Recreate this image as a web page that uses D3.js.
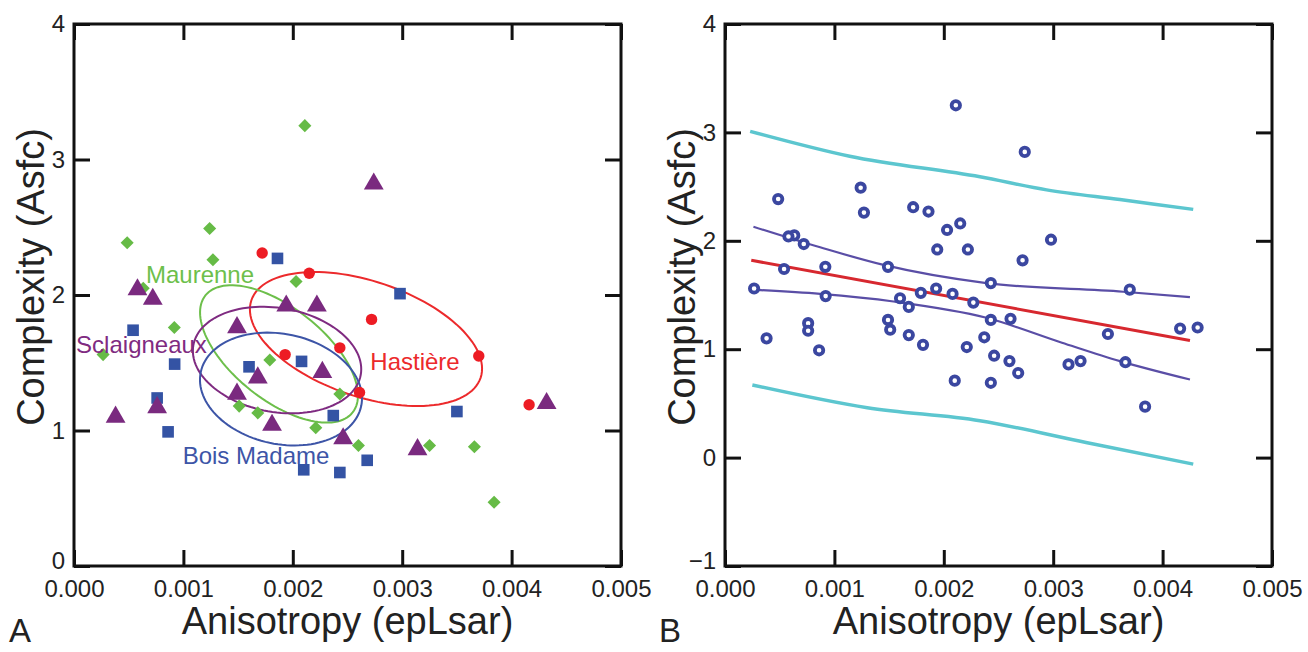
<!DOCTYPE html>
<html>
<head>
<meta charset="utf-8">
<script src="https://cdnjs.cloudflare.com/ajax/libs/d3/7.8.5/d3.min.js"></script>
<style>
  body { margin: 0; background: #fff; }
  text { font-family: "Liberation Sans", Arial, Helvetica, sans-serif; }
</style>
</head>
<body>
<script>
// ticks
var xTicks = [0, 0.001, 0.002, 0.003, 0.004, 0.005];
var yTicksA = [0, 1, 2, 3, 4];
var yTicksB = [-1, 0, 1, 2, 3, 4];

// sites: [epLsar, Asfc]
var maurenne = [[0.00211,3.25],[0.00124,2.49],[0.000486,2.385],[0.00127,2.26],[0.00203,2.10],
  [0.000633,2.05],[0.000917,1.76],[0.000266,1.56],[0.00179,1.52],[0.00243,1.27],[0.00151,1.18],
  [0.00168,1.13],[0.00221,1.02],[0.00260,0.89],[0.00325,0.89],[0.00366,0.88],[0.00384,0.47]];
var hastiere = [[0.00172,2.31],[0.00215,2.16],[0.00272,1.82],[0.00243,1.61],[0.00193,1.56],
  [0.00370,1.55],[0.00261,1.28],[0.00416,1.19]];
var boisMadame = [[0.00186,2.27],[0.00298,2.01],[0.00054,1.74],[0.00092,1.49],[0.00160,1.47],
  [0.00208,1.51],[0.00076,1.24],[0.00086,0.99],[0.00237,1.11],[0.00210,0.71],[0.00243,0.69],
  [0.00268,0.78],[0.00350,1.14]];
var sclaigneaux = [[0.00274,2.82],[0.00058,2.04],[0.00072,1.97],[0.00194,1.92],[0.00222,1.92],
  [0.00149,1.76],[0.00168,1.39],[0.00227,1.43],[0.00149,1.27],[0.00076,1.17],[0.00038,1.10],
  [0.00181,1.04],[0.00246,0.94],[0.00314,0.86],[0.00432,1.20]];

// ellipses: centre + two semi-axis vectors, data units
var ellipses = [
  {name: "Hastière",    color: "#ec2a2c", cx: 0.002669, cy: 1.675, ux: 0.0010475, uy: -0.2863, vx: -0.0001691, vy: -0.4033, lx: 0.003117, ly: 1.513},
  {name: "Maurenne",    color: "#6dbf4b", cx: 0.001874, cy: 1.565, ux: 0.0006728, uy: -0.4317, vx: -0.0002614, vy: -0.2657, lx: 0.001152, ly: 2.155},
  {name: "Sclaigneaux", color: "#7f2b81", cx: 0.001856, cy: 1.520, ux: 0.0007651, uy: -0.1089, vx: -0.0000825, vy: -0.3779, lx: 0.000617, ly: 1.638},
  {name: "Bois Madame", color: "#3d55a7", cx: 0.001892, cy: 1.306, ux: 0.0007331, uy: -0.1258, vx: -0.0001045, vy: -0.3970, lx: 0.001664, ly: 0.819}
];

// panel B lines
var regression = [[0.00024,1.82],[0.00425,1.08]];
var confUpper = [[0.00026,2.13],[0.00087,1.94],[0.00144,1.78],[0.00239,1.61],[0.00364,1.53],[0.00425,1.48]];
var confLower = [[0.00023,1.55],[0.00087,1.51],[0.00154,1.44],[0.00239,1.29],[0.00308,1.06],[0.00361,0.89],[0.00425,0.72]];
var predUpper = [[0.00023,3.01],[0.00114,2.78],[0.00233,2.59],[0.00294,2.47],[0.00361,2.38],[0.00428,2.29]];
var predLower = [[0.00025,0.67],[0.00130,0.46],[0.00233,0.34],[0.00330,0.14],[0.00428,-0.06]];

var W = 1308, H = 652, top_ = 24, bottom = 566;

var svg = d3.select("body").append("svg")
    .attr("width", W)
    .attr("height", H);

svg.append("rect").attr("width", W).attr("height", H).attr("fill", "#fff");

function drawFrame(x, y, yTicks, label, labelX) {
  var g = svg.append("g");
  var left = x.range()[0], right = x.range()[1];

  var styleAxis = function(sel) {
    sel.select(".domain").remove();
    sel.selectAll(".tick line").attr("stroke", "#111").attr("stroke-width", 3);
    sel.selectAll(".tick text").attr("font-size", 24).attr("fill", "#222")
      .attr("font-family", "Liberation Sans, Arial, sans-serif");
  };

  g.append("g").attr("transform", "translate(0," + bottom + ")")
    .call(d3.axisBottom(x).tickValues(xTicks).tickFormat(d3.format(".3f"))
      .tickSizeInner(-16).tickSizeOuter(0).tickPadding(14))
    .call(styleAxis);
  g.append("g").attr("transform", "translate(0," + top_ + ")")
    .call(d3.axisTop(x).tickValues(xTicks).tickFormat("")
      .tickSizeInner(-16).tickSizeOuter(0))
    .call(styleAxis);
  g.append("g").attr("transform", "translate(" + left + ",0)")
    .call(d3.axisLeft(y).tickValues(yTicks).tickFormat(d3.format("d"))
      .tickSizeInner(-16).tickSizeOuter(0).tickPadding(9))
    .call(styleAxis)
    .call(function(s) {
      // lowest label sits a little above its tick, as in the figure
      s.selectAll(".tick text").filter(function(d) { return d === yTicks[0]; }).attr("dy", "0.12em");
    });
  g.append("g").attr("transform", "translate(" + right + ",0)")
    .call(d3.axisRight(y).tickValues(yTicks).tickFormat("")
      .tickSizeInner(-16).tickSizeOuter(0))
    .call(styleAxis);

  g.append("rect")
    .attr("x", left).attr("y", top_)
    .attr("width", right - left).attr("height", bottom - top_)
    .attr("fill", "none").attr("stroke", "#111").attr("stroke-width", 3);

  // axis titles
  g.append("text")
    .attr("x", (left + right) / 2).attr("y", 634)
    .attr("text-anchor", "middle").attr("font-size", 38).attr("fill", "#222")
    .text("Anisotropy (epLsar)");
  g.append("text")
    .attr("transform", "translate(" + (left - 30) + ",277) rotate(-90)")
    .attr("text-anchor", "middle").attr("font-size", 38).attr("fill", "#222")
    .text("Complexity (Asfc)");
  g.append("text")
    .attr("x", labelX).attr("y", 642)
    .attr("font-size", 33).attr("fill", "#222")
    .text(label);
}

// ---- panel A
var xA = d3.scaleLinear().domain([0, 0.005]).range([74, 621]);
var yA = d3.scaleLinear().domain([0, 4]).range([bottom, top_]);

drawFrame(xA, yA, yTicksA, "A", 9);

var gA = svg.append("g");

var ellipseLine = d3.line()
    .x(function(d) { return xA(d[0]); })
    .y(function(d) { return yA(d[1]); })
    .curve(d3.curveLinearClosed);

ellipses.forEach(function(e) {
  var pts = d3.range(0, 120).map(function(i) {
    var t = i / 120 * 2 * Math.PI;
    return [e.cx + e.ux * Math.cos(t) + e.vx * Math.sin(t),
            e.cy + e.uy * Math.cos(t) + e.vy * Math.sin(t)];
  });
  gA.append("path").attr("d", ellipseLine(pts))
    .attr("fill", "none").attr("stroke", e.color).attr("stroke-width", 2);
});

function markers(data, type, size, color, rot) {
  gA.selectAll(null).data(data).enter().append("path")
    .attr("transform", function(d) {
      return "translate(" + xA(d[0]) + "," + yA(d[1]) + ")" + (rot ? " rotate(" + rot + ")" : "");
    })
    .attr("d", d3.symbol().type(type).size(size))
    .attr("fill", color);
}
markers(maurenne, d3.symbolSquare, 85, "#66bb46", 45);
markers(boisMadame, d3.symbolSquare, 135, "#3453a4", 0);
markers(hastiere, d3.symbolCircle, 102, "#ed1c24", 0);
markers(sclaigneaux, d3.symbolTriangle, 170, "#7a2a7f", 0);

gA.selectAll(".elabel").data(ellipses).enter().append("text")
    .attr("class", "elabel")
    .attr("x", function(d) { return xA(d.lx); })
    .attr("y", function(d) { return yA(d.ly); })
    .attr("dy", "0.36em")
    .attr("text-anchor", "middle")
    .attr("font-size", 24)
    .attr("fill", function(d) { return d.color; })
    .text(function(d) { return d.name; });

// ---- panel B
var xB = d3.scaleLinear().domain([0, 0.005]).range([725, 1272]);
var yB = d3.scaleLinear().domain([-1, 4]).range([bottom, top_]);

drawFrame(xB, yB, yTicksB, "B", 659);

var gB = svg.append("g");
var bandLine = d3.line()
    .x(function(d) { return xB(d[0]); })
    .y(function(d) { return yB(d[1]); })
    .curve(d3.curveMonotoneX);

[predUpper, predLower].forEach(function(s) {
  gB.append("path").attr("d", bandLine(s)).attr("fill", "none")
    .attr("stroke", "#5cc6cf").attr("stroke-width", 3.5);
});
[confUpper, confLower].forEach(function(s) {
  gB.append("path").attr("d", bandLine(s)).attr("fill", "none")
    .attr("stroke", "#5a4ea6").attr("stroke-width", 2.2);
});
gB.append("path").attr("d", bandLine(regression)).attr("fill", "none")
  .attr("stroke", "#d7282f").attr("stroke-width", 3);

var all = maurenne.concat(hastiere, boisMadame, sclaigneaux);
gB.selectAll("circle").data(all).enter().append("circle")
    .attr("cx", function(d) { return xB(d[0]); })
    .attr("cy", function(d) { return yB(d[1]); })
    .attr("r", 4.2)
    .attr("fill", "#fff")
    .attr("stroke", "#3b47a0")
    .attr("stroke-width", 3.8);
</script>
</body>
</html>
